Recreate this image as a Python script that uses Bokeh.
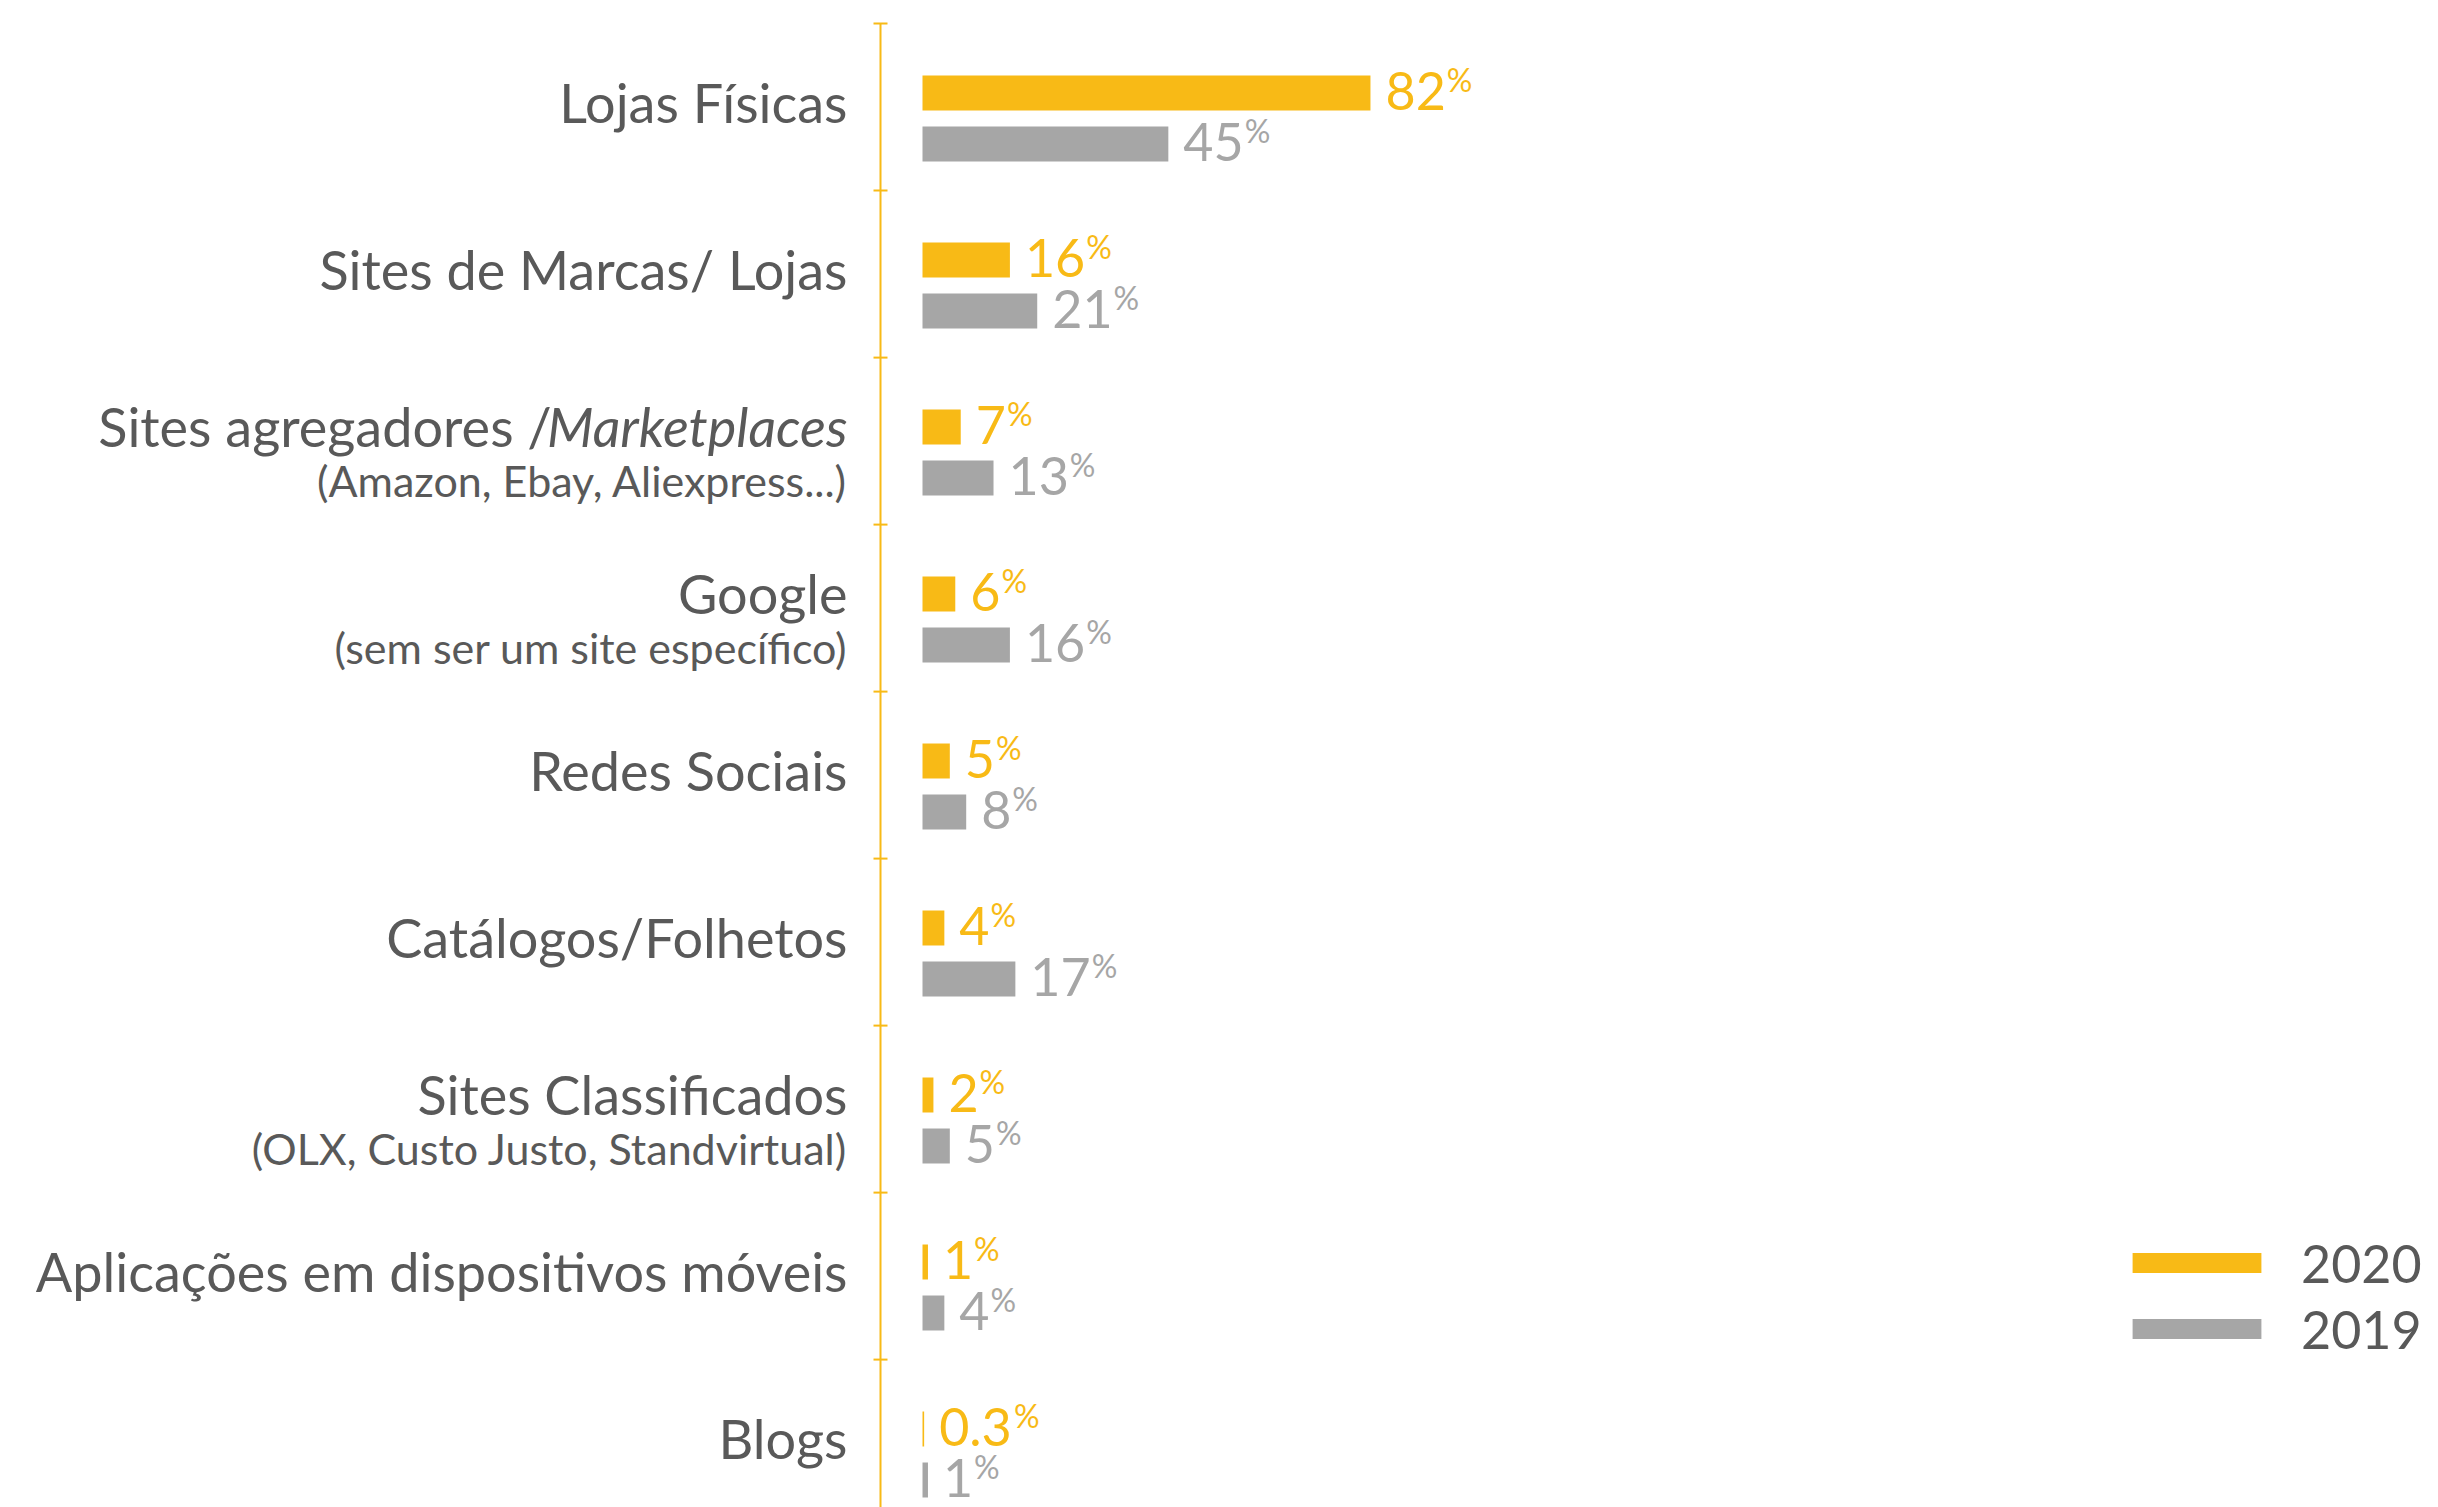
import numpy as np
from bokeh.plotting import figure
from bokeh.models import Range1d, Legend, LegendItem
from bokeh.core.properties import value
from bokeh.embed import file_html
from bokeh.resources import INLINE

# ---------------- data ----------------
categories = [
    "Lojas Físicas",
    "Sites de Marcas/ Lojas",
    "Sites agregadores /",
    "Google",
    "Redes Sociais",
    "Catálogos/Folhetos",
    "Sites Classificados",
    "Aplicações em dispositivos móveis",
    "Blogs",
]
italic_suffix = ["", "", "Marketplaces", "", "", "", "", "", ""]
subtitles = [
    "",
    "",
    "(Amazon, Ebay, Aliexpress...)",
    "(sem ser um site específico)",
    "",
    "",
    "(OLX, Custo Justo, Standvirtual)",
    "",
    "",
]
share_2020 = [82, 16, 7, 6, 5, 4, 2, 1, 0.3]
share_2019 = [45, 21, 13, 16, 8, 17, 5, 4, 1]
series_names = ["2020", "2019"]

# ---------------- style / layout ----------------
ORANGE = "#F8BA16"
GREY = "#A6A6A6"
TEXT = "#595959"
FONT = "Lato"

W, H = 2438, 1507
PX_PER_PCT = 5.463      # horizontal scale (px per percentage point)
ROW_PX = 167.0          # vertical spacing of categories
BAR_LEFT_PX = 922       # screen x of the bars' zero line
ROW0_PX = 106.6         # screen y of first category centre
BASE_FIX = 0.38         # baseline correction (fraction of font size)

x_range = Range1d(-BAR_LEFT_PX / PX_PER_PCT, (W - BAR_LEFT_PX) / PX_PER_PCT)
y_range = Range1d((H - ROW0_PX) / ROW_PX, -ROW0_PX / ROW_PX)

p = figure(width=W, height=H, x_range=x_range, y_range=y_range,
           output_backend="svg", toolbar_location=None, min_border=0,
           x_axis_location=None, y_axis_location=None,
           outline_line_color=None, background_fill_color="white",
           border_fill_color="white")
p.grid.grid_line_color = None

n = len(categories)
idx = np.arange(n)
BAR_H = 35 / ROW_PX
y20 = idx - 14.1 / ROW_PX
y19 = idx + 36.9 / ROW_PX

r20 = p.hbar(y=y20, left=0, right=share_2020, height=BAR_H,
             fill_color=ORANGE, line_color=None)
r19 = p.hbar(y=y19, left=0, right=share_2019, height=BAR_H,
             fill_color=GREY, line_color=None)

# ---------- category axis (line with ticks at category boundaries) ----------
axis_x = -42 / PX_PER_PCT
tick_half = 7 / PX_PER_PCT
p.segment(x0=[axis_x], y0=[-0.5], x1=[axis_x], y1=[y_range.start],
          line_color=ORANGE, line_width=2)
bounds = idx - 0.5
p.segment(x0=np.full(n, axis_x - tick_half), y0=bounds,
          x1=np.full(n, axis_x + tick_half), y1=bounds,
          line_color=ORANGE, line_width=2)

# ---------- value labels ----------
NUM_FS = 52
PCT_FS = 32
GAP = 15


def fmt(v):
    return f"{v:g}"


def num_width(s):
    return sum(0.58 * NUM_FS if ch.isdigit() else 0.26 * NUM_FS for ch in s)


for vals, ys, col in ((share_2020, y20, ORANGE), (share_2019, y19, GREY)):
    labs = [fmt(v) for v in vals]
    base = ys + BAR_H / 2
    p.text(x=vals, y=base, text=labs, x_offset=GAP, y_offset=-BASE_FIX * NUM_FS,
           text_align="left", text_baseline="alphabetic",
           text_font=value(FONT), text_font_size=f"{NUM_FS}px", text_color=col)
    p.text(x=vals, y=base, text=["%"] * n,
           x_offset=[GAP + num_width(s) + 1 for s in labs],
           y_offset=-19 - BASE_FIX * PCT_FS,
           text_align="left", text_baseline="alphabetic",
           text_font=value(FONT), text_font_size=f"{PCT_FS}px", text_color=col)

# ---------- category labels ----------
MAIN_FS = 54
SUB_FS = 43
LABEL_X = -75   # px offset (right edge) from the zero line
has_sub = np.array([s != "" for s in subtitles])
main_off = np.where(has_sub, 6, 16) - BASE_FIX * MAIN_FS
ITALIC_EM = 5.44
plain_off = [(LABEL_X - ITALIC_EM * MAIN_FS - 2 if italic_suffix[i] else LABEL_X)
             for i in range(n)]
p.text(x=np.zeros(n), y=idx, text=categories, x_offset=plain_off, y_offset=main_off,
       text_align="right", text_baseline="alphabetic",
       text_font=value(FONT), text_font_size=f"{MAIN_FS}px", text_color=TEXT)
it = [i for i in range(n) if italic_suffix[i]]
p.text(x=np.zeros(len(it)), y=idx[it], text=[italic_suffix[i] for i in it],
       x_offset=LABEL_X, y_offset=main_off[it],
       text_align="right", text_baseline="alphabetic", text_font_style="italic",
       text_font=value(FONT), text_font_size=f"{MAIN_FS}px", text_color=TEXT)
sb = [i for i in range(n) if subtitles[i]]
p.text(x=np.zeros(len(sb)), y=idx[sb], text=[subtitles[i] for i in sb],
       x_offset=LABEL_X, y_offset=56 - BASE_FIX * SUB_FS,
       text_align="right", text_baseline="alphabetic",
       text_font=value(FONT), text_font_size=f"{SUB_FS}px", text_color=TEXT)

# ---------- legend ----------
LEG_FS = 52
row_h = 1.2 * LEG_FS
legend = Legend(items=[LegendItem(label=series_names[0], renderers=[r20]),
                       LegendItem(label=series_names[1], renderers=[r19])],
                location=(2116, H - (1262 - row_h / 2 + 2 * row_h + 4)),
                orientation="vertical",
                glyph_width=161, glyph_height=25, label_height=25,
                spacing=4, label_standoff=24, padding=0, margin=0,
                border_line_color=None, background_fill_color=None,
                label_text_font=FONT, label_text_font_size=f"{LEG_FS}px",
                label_text_color=TEXT)
p.add_layout(legend)

open("out.html", "w").write(file_html(p, INLINE))
